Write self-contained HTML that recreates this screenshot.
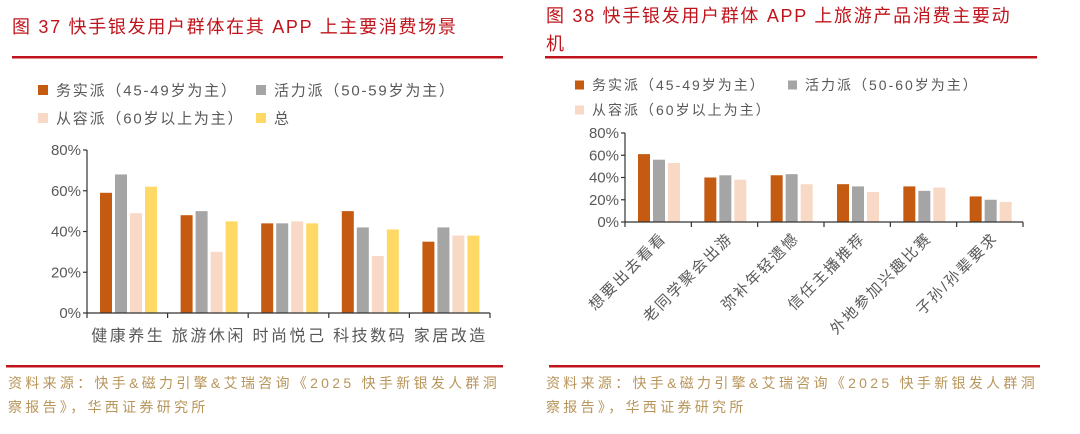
<!DOCTYPE html>
<html><head><meta charset="utf-8"><style>
html,body{margin:0;padding:0;background:#fff;}
svg{display:block;font-family:"Liberation Sans","Noto Sans CJK SC",sans-serif;}
</style></head><body>
<svg id="s" width="1080" height="434" viewBox="0 0 1080 434" xmlns="http://www.w3.org/2000/svg">
<text x="12" y="33" font-size="18" fill="#c0141c" letter-spacing="1.7">图 37 快手银发用户群体在其 APP 上主要消费场景</text>
<rect x="12" y="56" width="491" height="2.5" fill="#c0141c"/>
<text x="546" y="22" font-size="18" fill="#c0141c" letter-spacing="1.7">图 38 快手银发用户群体 APP 上旅游产品消费主要动</text>
<text x="546" y="50" font-size="18" fill="#c0141c">机</text>
<rect x="545" y="56" width="492" height="2.5" fill="#c0141c"/>
<g id="leftLegend"></g><g id="rightLegend"></g>
<g id="leftChart"></g><g id="rightChart"></g>
<rect x="6" y="365" width="497" height="2.5" fill="#c0141c"/>
<rect x="549" y="365" width="491" height="2.5" fill="#c0141c"/>
<g font-size="14" fill="#b8955a" letter-spacing="3.3">
<text x="8" y="388">资料来源：快手&amp;磁力引擎&amp;艾瑞咨询《2025 快手新银发人群洞</text>
<text x="8" y="412">察报告》，华西证券研究所</text>
<text x="546" y="388">资料来源：快手&amp;磁力引擎&amp;艾瑞咨询《2025 快手新银发人群洞</text>
<text x="546" y="412">察报告》，华西证券研究所</text>
</g>
</svg>
<script>
const NS="http://www.w3.org/2000/svg";
const leftCategories=["健康养生","旅游休闲","时尚悦己","科技数码","家居改造"];
const leftWushi=[59,48,44,50,35];
const leftHuoli=[68,50,44,42,42];
const leftCongrong=[49,30,45,28,38];
const leftTotal=[62,45,44,41,38];
const leftTicks=["0%","20%","40%","60%","80%"];
const rightCategories=["想要出去看看","老同学聚会出游","弥补年轻遗憾","信任主播推荐","外地参加兴趣比赛","子孙/孙辈要求"];
const rightWushi=[61,40,42,34,32,23];
const rightHuoli=[56,42,43,32,28,20];
const rightCongrong=[53,38,34,27,31,18];
const rightTicks=["0%","20%","40%","60%","80%"];
const colors=["#c55a11","#a5a5a5","#f8d9c6","#ffd966"];
function mk(tag,attrs,parent){const e=document.createElementNS(NS,tag);for(const k in attrs)e.setAttribute(k,attrs[k]);parent.appendChild(e);return e;}
function legend(g,items,rows,fs,sq,ls){
  items.forEach((it,i)=>{
    const r=rows[i];
    const sw=mk("rect",{x:r[0],y:r[1]-sq/2,width:sq,height:sq,fill:colors[i]},g);
    
    
    const t=mk("text",{x:r[0]+sq+8,y:r[1]+fs*0.36,"font-size":fs,fill:"#595959","letter-spacing":ls},g);
    t.textContent=it;
    
    
  });
}
legend(document.getElementById("leftLegend"),["务实派（45-49岁为主）","活力派（50-59岁为主）","从容派（60岁以上为主）","总"],[[38,90],[256,90],[38,118],[256,118]],15,10,1.8);
legend(document.getElementById("rightLegend"),["务实派（45-49岁为主）","活力派（50-60岁为主）","从容派（60岁以上为主）"],[[575,85],[788,85],[575,110]],14,9,2);
function chart(g,cats,series,ticks,o){
  const ys=v=>o.y0-(v/80)*(o.y0-o.y80);
  const cw=(o.x1-o.x0)/cats.length;
  ticks.forEach(t=>{
    const v=parseFloat(t),y=ys(v);
    const l=mk("text",{x:o.x0-6,y:y+5,"font-size":o.tfs,fill:"#595959","text-anchor":"end"},g);l.textContent=t;
    
    
    mk("line",{x1:o.x0-4,x2:o.x0,y1:y,y2:y,stroke:"#333","stroke-width":1.2},g);
  });
  mk("line",{x1:o.x0,x2:o.x0,y1:o.y80,y2:o.y0,stroke:"#333","stroke-width":1.2},g);
  cats.forEach((c,i)=>{
    const gx=o.x0+i*cw;
    series.forEach((s,j)=>{
      const x=gx+o.off+j*(o.bw+o.gap),y=ys(s[i]);
      const b=mk("rect",{x:x,y:y,width:o.bw,height:o.y0-y,fill:colors[j]},g);
      
      
    });
    mk("line",{x1:gx+cw,x2:gx+cw,y1:o.y0,y2:o.y0+5,stroke:"#333","stroke-width":1.2},g);
    const cx=gx+cw/2;
    let t;
    if(o.rot){t=mk("text",{x:cx+9,y:o.y0+17,"font-size":o.cfs,fill:"#595959","text-anchor":"end","letter-spacing":2,transform:`rotate(-45 ${cx+9} ${o.y0+17})`},g);}
    else{t=mk("text",{x:cx+1,y:o.y0+28,"font-size":o.cfs,fill:"#595959","text-anchor":"middle","letter-spacing":2.5},g);}
    t.textContent=c;
    
    
  });
  mk("line",{x1:o.x0,x2:o.x0,y1:o.y0,y2:o.y0+5,stroke:"#333","stroke-width":1.2},g);
  mk("line",{x1:o.x0,x2:o.x1,y1:o.y0,y2:o.y0,stroke:"#333","stroke-width":1.2},g);
}
chart(document.getElementById("leftChart"),leftCategories,[leftWushi,leftHuoli,leftCongrong,leftTotal],leftTicks,{x0:87,x1:490,y0:313,y80:150,bw:12,gap:3,off:13,tfs:15,cfs:16,rot:false});
chart(document.getElementById("rightChart"),rightCategories,[rightWushi,rightHuoli,rightCongrong],rightTicks,{x0:625,x1:1023,y0:222,y80:133,bw:12,gap:3,off:13,tfs:15,cfs:15,rot:true});
</script>
</body></html>
